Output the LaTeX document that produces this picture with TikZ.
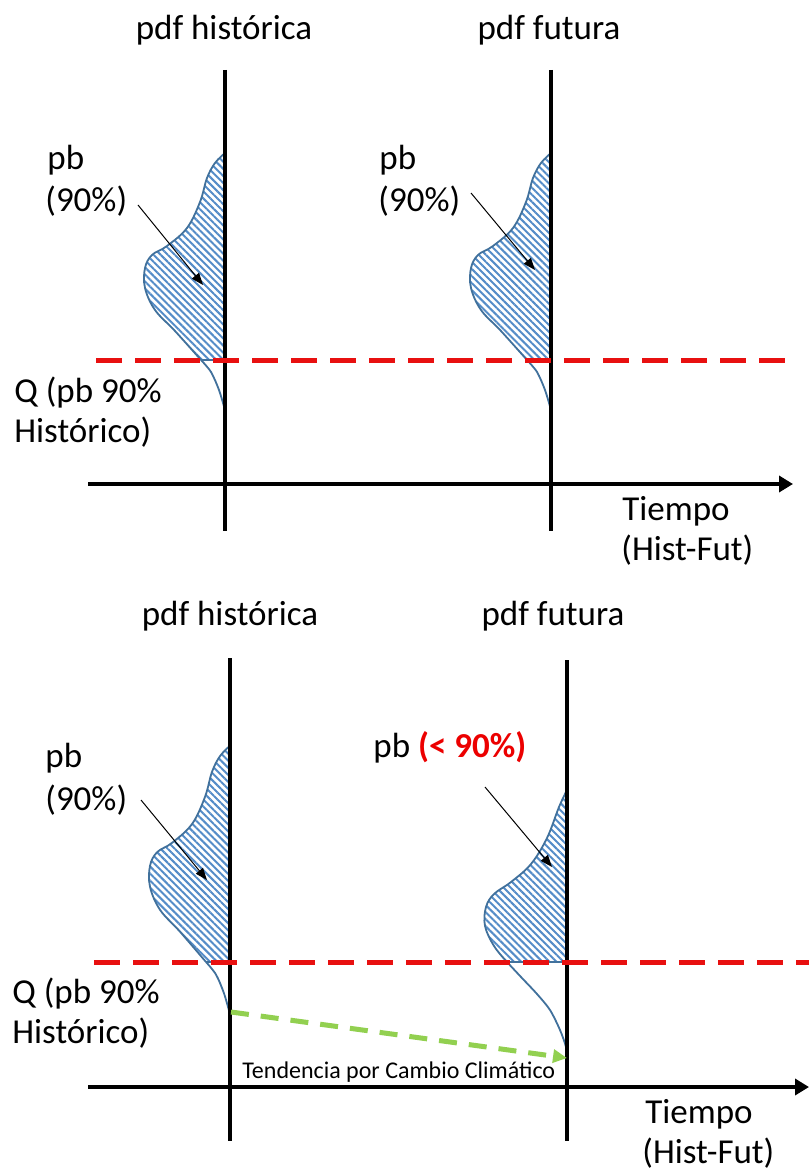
\documentclass[tikz,border=0pt]{standalone}
\usepackage{fontspec}
\setmainfont{Carlito}
\usetikzlibrary{arrows.meta,patterns.meta}
\definecolor{pdfline}{RGB}{65,113,156}
\definecolor{pdfhatch}{RGB}{84,140,200}
\definecolor{qred}{RGB}{232,16,16}
\definecolor{txtred}{RGB}{236,0,0}
\definecolor{trendgreen}{RGB}{146,208,80}
\tikzset{
 lbl/.style={inner sep=0pt, anchor=base west, font=\fontsize{17.5}{21}\selectfont},
 ttl/.style={inner sep=0pt, anchor=base, font=\fontsize{17.5}{21}\selectfont},
 trendlbl/.style={inner sep=0pt, anchor=base west, font=\fontsize{12}{14}\selectfont},
 axisline/.style={line width=2pt, black},
 timeaxis/.style={axisline, -{Triangle[length=7pt,width=8pt]}},
 qline/.style={qred, line width=2.5pt, dash pattern=on 13pt off 6.5pt},
 trend/.style={trendgreen, line width=2.5pt, dash pattern=on 9pt off 6pt, -{Triangle[length=7pt,width=6.5pt]}},
 ptr/.style={line width=0.5pt, -{Triangle[length=6pt,width=4.5pt]}},
 hatch/.style={pattern={Lines[angle=-45,distance=2.5pt,line width=1pt]}, pattern color=pdfhatch},
 pdfedge/.style={pdfline, line width=0.9pt},
}
\newcommand{\pdfhistupper}{(0,-207) (-10,-197) (-18,-182) (-25,-158) (-38,-132) (-58,-114) (-73,-105) (-80,-92) (-80,-72) (-70,-50) (-50,-29) (-24,0)}
\newcommand{\pdfhist}{%
 \path[hatch] plot[smooth,tension=0.6] coordinates {\pdfhistupper} -- (0,0) -- cycle;
 \draw[pdfedge] plot[smooth,tension=0.6] coordinates {\pdfhistupper};
 \draw[pdfedge] plot[smooth] coordinates {(-24,0) (-14,12) (-6,30) (0,50)};
 \draw[pdfedge] (-24,0) -- (0,0);
}
\newcommand{\pdffutupper}{(0,-172) (-8,-155) (-20,-124) (-36,-98) (-56,-80) (-73,-68) (-81,-55) (-82,-36) (-73,-16) (-60,0)}
\begin{document}
\begin{tikzpicture}[x=0.5pt,y=-0.5pt]
\useasboundingbox (0,0) rectangle (809,1176);
\fill[white] (0,0) rectangle (809,1176);

% ================= TOP PANEL =================
\begin{scope}[shift={(225,360)}]\pdfhist\end{scope}
\begin{scope}[shift={(551,360)}]\pdfhist\end{scope}

\coordinate (tl1) at (225,70);  \coordinate (tl2) at (225,531);
\coordinate (tr1) at (551,70);  \coordinate (tr2) at (551,531);
\coordinate (tax1) at (88,484); \coordinate (tax2) at (793,484);
\coordinate (tq1) at (96,360);  \coordinate (tq2) at (792,360);
\draw[axisline] (tl1) -- (tl2);
\draw[axisline] (tr1) -- (tr2);
\draw[timeaxis] (tax1) -- (tax2);
\draw[qline] (tq1) -- (tq2);

\node[ttl] (tt1) at (224,40) {pdf histórica};
\node[ttl] (tt2) at (549,40) {pdf futura};
\node[lbl] (tpb1) at (47,170) {pb};
\node[lbl] (tpc1) at (45,212) {(90\%)};
\node[lbl] (tpb2) at (379,170) {pb};
\node[lbl] (tpc2) at (378,212) {(90\%)};
\node[lbl] (tq1a) at (14,402) {Q (pb 90\%};
\node[lbl] (tq1b) at (14,442) {Histórico)};
\node[lbl] (tti1) at (622,520) {Tiempo};
\node[lbl] (tti2) at (621,560) {(Hist-Fut)};

\coordinate (ta1s) at (138,205); \coordinate (ta1e) at (203,285);
\coordinate (ta2s) at (471,193); \coordinate (ta2e) at (535,270);
\draw[ptr] (ta1s) -- (ta1e);
\draw[ptr] (ta2s) -- (ta2e);

% ================= BOTTOM PANEL =================
\begin{scope}[shift={(230,962)},yscale=1.045]\pdfhist\end{scope}
\begin{scope}[shift={(567,962)}]
 \path[hatch] plot[smooth,tension=0.6] coordinates {\pdffutupper} -- (0,0) -- cycle;
 \draw[pdfedge] plot[smooth,tension=0.6] coordinates {\pdffutupper};
 \draw[pdfedge] plot[smooth] coordinates {(-60,0) (-46,15) (-30,32) (-17,48) (-7,68) (-1,85) (0,96)};
 \draw[pdfedge] (-60,0) -- (0,0);
\end{scope}

\coordinate (bl1) at (230,658);  \coordinate (bl2) at (230,1141);
\coordinate (br1) at (567,660);  \coordinate (br2) at (567,1141);
\coordinate (bax1) at (88,1087); \coordinate (bax2) at (809,1087);
\coordinate (bq1) at (94,962);   \coordinate (bq2) at (809,962);
\draw[axisline] (bl1) -- (bl2);
\draw[axisline] (br1) -- (br2);
\draw[timeaxis] (bax1) -- (bax2);
\draw[qline] (bq1) -- (bq2);

\coordinate (gs) at (231,1012); \coordinate (ge) at (567,1058);
\draw[trend] (gs) -- (ge);

\node[ttl] (bt1) at (230,625) {pdf histórica};
\node[ttl] (bt2) at (553,625) {pdf futura};
\node[lbl] (bpb1) at (45,767) {pb};
\node[lbl] (bpc1) at (45,810) {(90\%)};
\node[lbl] (bpb2) at (373,757) {pb \textcolor{txtred}{\bfseries (< 90\%)}};
\node[lbl] (bq1a) at (12,1003) {Q (pb 90\%};
\node[lbl] (bq1b) at (12,1043) {Histórico)};
\node[lbl] (bti1) at (645,1123) {Tiempo};
\node[lbl] (bti2) at (642,1163) {(Hist-Fut)};
\node[trendlbl] (trendtxt) at (242,1078) {Tendencia por Cambio Climático};

\coordinate (ba1s) at (141,800); \coordinate (ba1e) at (207,880);
\coordinate (ba2s) at (485,787); \coordinate (ba2e) at (552,867);
\draw[ptr] (ba1s) -- (ba1e);
\draw[ptr] (ba2s) -- (ba2e);
\end{tikzpicture}
\end{document}
